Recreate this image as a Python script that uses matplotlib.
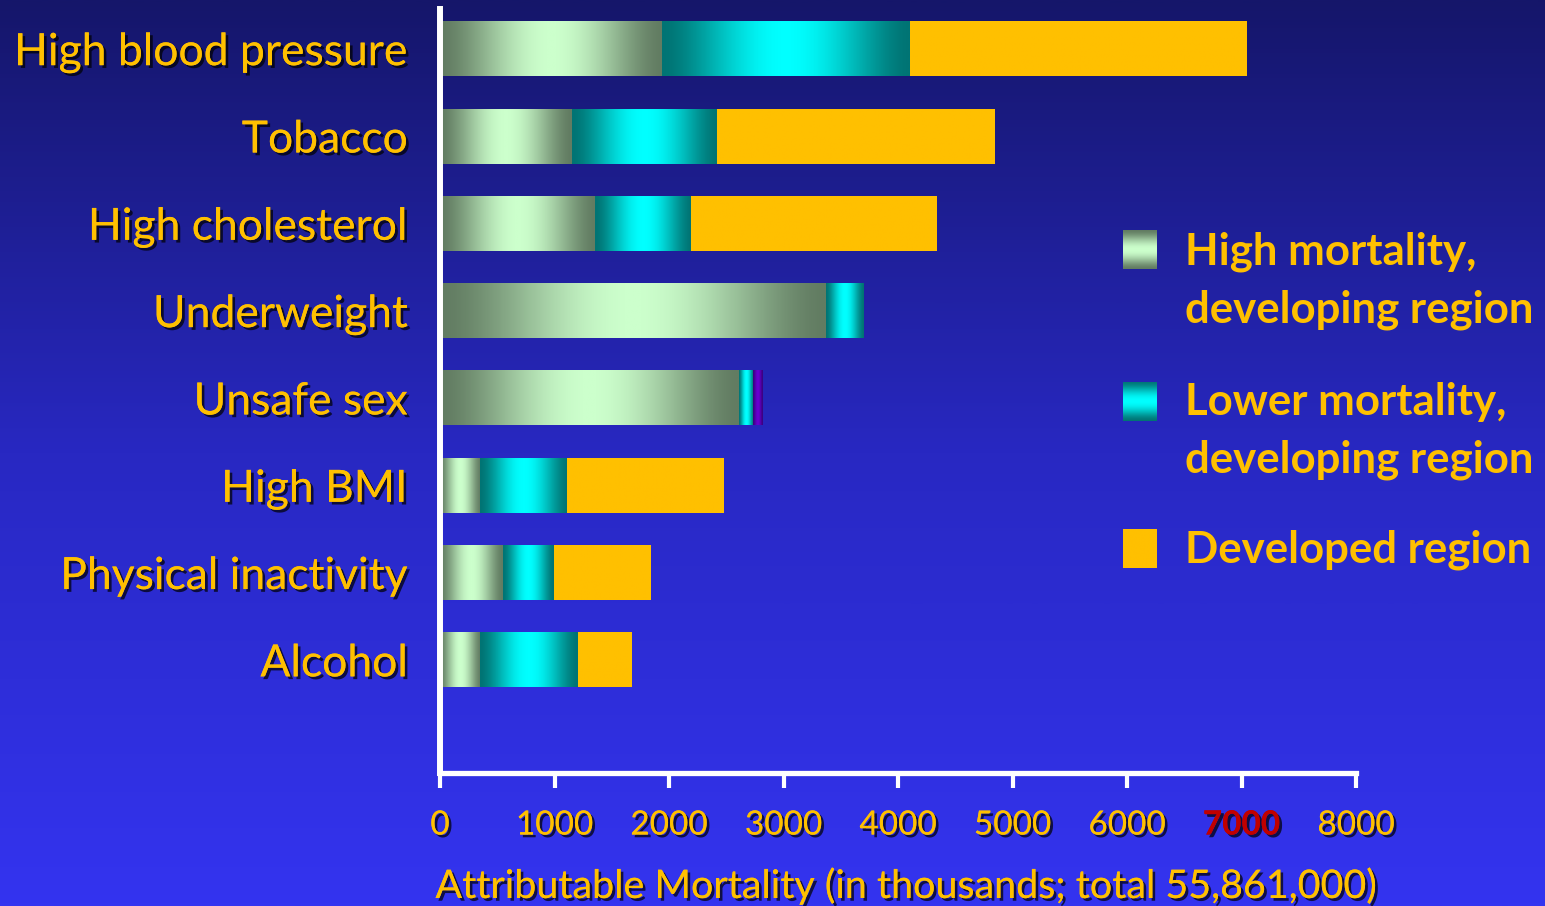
import matplotlib
matplotlib.use('Agg')
import numpy as np
import matplotlib.pyplot as plt
from matplotlib.colors import LinearSegmentedColormap
import matplotlib.patheffects as pe
import matplotlib.transforms as mtransforms

# ---------------- data ----------------
categories = ["High blood pressure", "Tobacco", "High cholesterol", "Underweight",
              "Unsafe sex", "High BMI", "Physical inactivity", "Alcohol"]
high_mortality_developing = [1940, 1150, 1355, 3370, 2610, 350, 550, 350]
lower_mortality_developing = [2165, 1270, 840, 330, 125, 760, 445, 855]
developed = [2935, 2420, 2140, 0, 85, 1370, 840, 470]
series_labels = [["High mortality,", "developing region"],
                 ["Lower mortality,", "developing region"],
                 ["Developed region"]]
xticks = [0, 1000, 2000, 3000, 4000, 5000, 6000, 7000, 8000]
xlabel = "Attributable Mortality (in thousands; total 55,861,000)"

# ---------------- style ----------------
W, H, DPI = 1545, 906, 100
GOLD = '#FFC000'
FONT = 'Lato'
plt.rcParams['font.family'] = [FONT, 'DejaVu Sans']

cm_green = LinearSegmentedColormap.from_list('g', ['#627c62', '#ccffcc'])
cm_teal = LinearSegmentedColormap.from_list('t', ['#007474', '#00ffff'])
cm_purple = LinearSegmentedColormap.from_list('p', ['#3a0080', '#6a00d0'])
cm_gold = LinearSegmentedColormap.from_list('y', [GOLD, GOLD])
bg_cmap = LinearSegmentedColormap.from_list('bg', [(0, '#15166a'), (0.5, '#2828c2'), (1, '#3434f0')])

u = np.linspace(0, 1, 256)
profile = np.sin(np.pi * u) ** 1.6

shadow = [pe.withSimplePatchShadow(offset=(2, -2), shadow_rgbFace='black', alpha=0.7), pe.Normal()]

fig = plt.figure(figsize=(W / DPI, H / DPI), dpi=DPI)

# background gradient
bg = fig.add_axes([0, 0, 1, 1], zorder=-10)
bg.imshow(np.linspace(0, 1, 512)[:, None], cmap=bg_cmap, aspect='auto', extent=[0, 1, 0, 1])
bg.set_axis_off()

ax = fig.add_axes([440 / W, 1 - 773 / H, (1356 - 440) / W, (773 - 9) / H])
ax.patch.set_alpha(0)

y = np.arange(len(categories))
bar_h = 0.62
hm = np.array(high_mortality_developing)
lm = np.array(lower_mortality_developing)
dv = np.array(developed)

b1 = ax.barh(y, hm, height=bar_h, color='none', edgecolor='none')
b2 = ax.barh(y, lm, left=hm, height=bar_h, color='none', edgecolor='none')
b3 = ax.barh(y, dv, left=hm + lm, height=bar_h, color='none', edgecolor='none')

dev_cmaps = [cm_gold] * len(categories)
dev_cmaps[categories.index("Unsafe sex")] = cm_purple


def fill_gradient(bar, cmap):
    w = bar.get_width()
    if w <= 0:
        return
    x0, y0, h = bar.get_x(), bar.get_y(), bar.get_height()
    ax.imshow(profile[None, :], cmap=cmap, vmin=0, vmax=1, aspect='auto',
              extent=[x0, x0 + w, y0 + h, y0], interpolation='bilinear', zorder=2)


for bar in b1:
    fill_gradient(bar, cm_green)
for bar in b2:
    fill_gradient(bar, cm_teal)
for bar, cm in zip(b3, dev_cmaps):
    fill_gradient(bar, cm)

ax.set_xlim(0, 8000)
ax.set_ylim(8.29, -0.46)
ax.set_aspect('auto')

for s in ['top', 'right']:
    ax.spines[s].set_visible(False)
ax.spines['left'].set_color('white')
ax.spines['left'].set_linewidth(4.3)
ax.spines['bottom'].set_color('white')
ax.spines['bottom'].set_linewidth(3.8)
ax.spines['left'].set_zorder(5)

ax.set_yticks([])
ax.set_xticks(xticks)
ax.set_xticklabels([str(t) for t in xticks])
ax.tick_params(axis='x', direction='out', length=11, width=3, color='white',
               labelsize=24, labelcolor=GOLD, pad=16)
for lab in ax.get_xticklabels():
    lab.set_path_effects(shadow)
    if lab.get_text() == '7000':
        lab.set_color('#C00000')
        lab.set_fontweight('bold')

# category labels
ylab_tr = mtransforms.blended_transform_factory(fig.transFigure, ax.transData) + \
    mtransforms.ScaledTranslation(0, -16 / DPI, fig.dpi_scale_trans)
for yi, name in zip(y, categories):
    ax.text(408 / W, yi, name, transform=ylab_tr, ha='right', va='baseline',
            fontsize=32, color=GOLD, path_effects=shadow)

# x label
xl_tr = mtransforms.blended_transform_factory(ax.transData, fig.transFigure)
ax.text(4060, 1 - 898 / H, xlabel, transform=xl_tr, ha='center', va='baseline',
        fontsize=28.4, color=GOLD, path_effects=shadow)

# legend
leg_sq = [(230, 269), (382, 421), (529, 568)]
leg_cmaps = [cm_green, cm_teal, cm_gold]
leg_baselines = [[265, 322], [415, 472], [563]]
for (t, b), cm, lines, bls in zip(leg_sq, leg_cmaps, series_labels, leg_baselines):
    lax = fig.add_axes([1123 / W, 1 - b / H, 34 / W, (b - t) / H])
    lax.imshow(profile[:, None], cmap=cm, vmin=0, vmax=1, aspect='auto', interpolation='bilinear')
    lax.set_axis_off()
    for line, bl in zip(lines, bls):
        fig.text(1185 / W, 1 - bl / H, line, ha='left', va='baseline', fontsize=31.5,
                 fontweight='bold', color=GOLD)

fig.savefig('out.png', dpi=DPI)
